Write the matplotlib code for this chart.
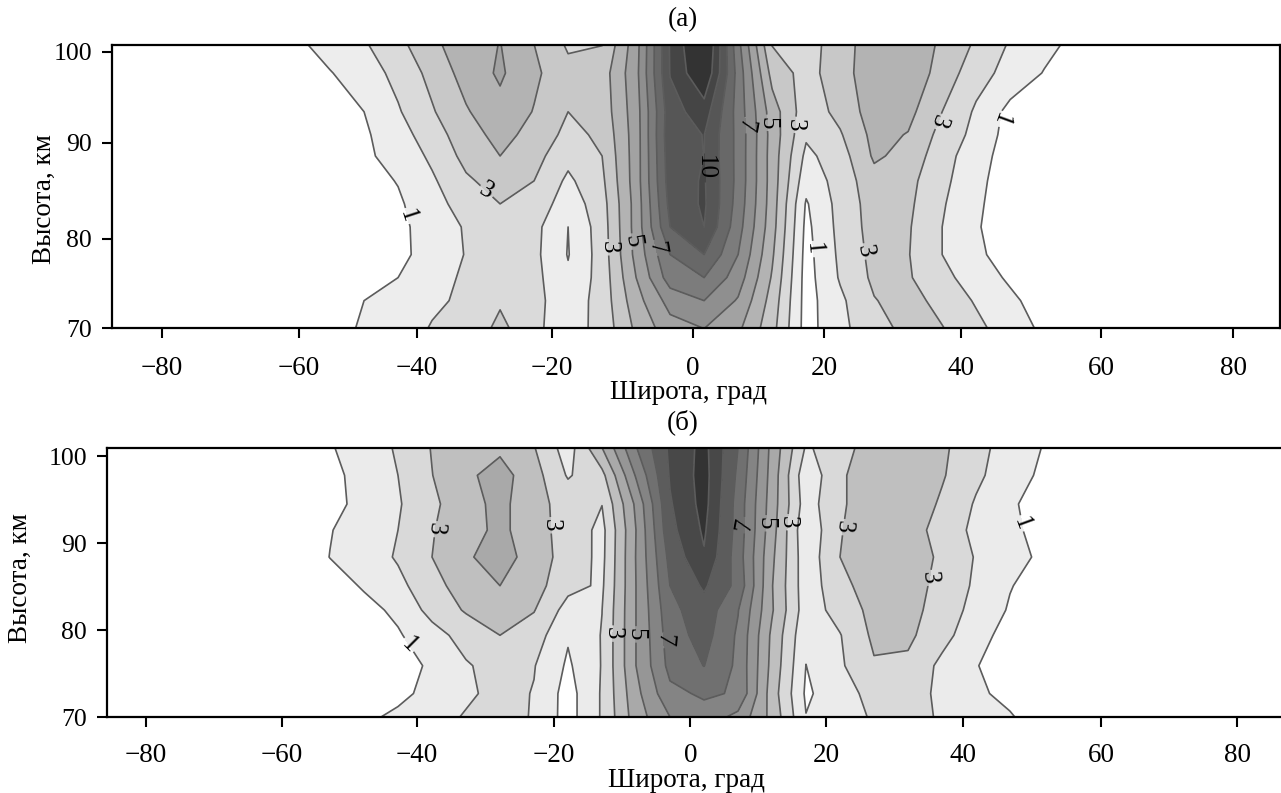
import numpy as np
import matplotlib
matplotlib.use("Agg")
import matplotlib.pyplot as plt

LAT = [-58,-53,-48,-43,-38,-33,-28,-23,-18,-13,-8,-3,2,7,12,17,22,27,32,37,42,47,52,57]

ALT_A = [70,73,75.5,78,81,83.5,86,88.7,91,93.5,97.7,100.85]
VAL_A = [
 [.3,.7,1.1,1.3,2.1,2.2,3.3,2.2,1.5,2.35,4.2,5.6,6.01,5.2,3.35,.6,1.75,2.6,3.3,3.05,2.25,1.5,.8,.2],
 [.1,.5,1.0,1.3,1.75,2.25,2.85,2.3,1.4,2.4,4.6,6.4,7.0,5.9,3.6,.6,1.8,2.95,3.4,2.65,1.9,1.2,.55,.1],
 [0,.3,.65,1.0,1.5,2.2,2.75,2.3,1.15,2.4,5.0,7.5,8.0,6.5,3.9,.6,2.1,3.2,3.1,2.3,1.5,.85,.3,0],
 [0,.1,.4,.78,1.35,2.05,2.75,2.25,.95,2.45,5.3,8.0,9.0,7.0,4.15,.65,2.2,3.3,3.05,2.0,1.2,.55,.1,0],
 [0,.05,.3,.78,1.4,2.1,2.85,2.3,1.0,2.5,5.4,9.0,10.0,7.4,4.4,.75,2.3,3.4,3.1,2.0,1.1,.4,0,0],
 [0,.1,.4,.85,1.65,2.4,3.0,2.7,1.4,2.6,5.4,9.3,10.15,7.6,4.5,.9,2.35,3.45,3.2,2.1,1.2,.35,0,0],
 [0,.15,.6,1.05,1.85,2.85,3.4,3.0,1.8,2.8,5.5,9.5,10.1,7.7,4.55,1.35,2.4,3.65,3.3,2.25,1.3,.4,.05,0],
 [0,.25,.85,1.3,2.2,3.3,4.0,3.35,2.3,3.0,5.5,9.6,10.01,7.7,4.55,1.75,2.55,4.15,3.7,2.35,1.5,.45,.1,0],
 [0,.4,.85,1.6,2.5,3.6,4.3,3.7,2.7,3.2,5.5,9.7,10.02,7.7,4.6,2.15,2.9,4.3,3.95,2.65,1.7,.6,.2,0],
 [0,.5,1.0,1.9,2.9,3.9,4.7,3.95,3.0,3.4,5.55,9.6,10.5,7.6,4.5,2.4,3.3,4.5,4.3,3.0,1.85,.7,.4,0],
 [.3,.95,1.5,2.3,3.3,4.4,5.15,4.2,3.3,3.5,5.7,10.05,12.0,7.6,3.65,2.6,3.6,4.6,4.7,3.6,2.4,1.65,.95,.4],
 [.8,1.4,1.9,2.7,3.8,4.5,5.03,4.0,2.85,2.97,5.6,10.1,12.4,7.3,2.95,2.5,3.6,4.5,4.6,3.85,2.85,1.9,1.3,.7],
]

ALT_B = [70,72.7,75.9,79.4,82.3,85.1,88.4,91.5,94.5,97.8,101]
VAL_B = [
 [0,.3,.8,1.2,1.55,2.1,2.5,1.9,.6,2.1,4.5,6.0,6.6,5.7,3.7,1.03,1.6,2.1,2.3,1.9,1.4,1.1,.4,0],
 [0,.05,.2,.75,1.3,1.8,2.35,1.95,.6,2.1,4.7,6.75,7.15,6.9,3.5,.85,1.55,2.35,2.5,1.75,1.2,.7,.1,0],
 [0,0,.1,.5,1.19,1.9,2.4,2.05,.85,2.05,5.0,7.3,8.02,6.8,3.7,.99,1.85,2.9,2.8,1.75,1.05,.45,0,0],
 [0,.1,.35,.9,1.6,2.4,3.0,2.5,1.1,2.05,5.0,7.5,8.4,6.85,3.8,1.2,1.95,3.2,3.2,2.35,1.35,.65,.15,0],
 [0,.3,.7,1.2,2.35,3.1,3.5,3.05,1.6,1.99,5.0,7.7,8.6,7.05,4.1,1.45,2.4,3.3,3.4,2.5,1.7,.9,.4,0],
 [0,.55,1.1,1.75,2.6,3.55,4.0,3.4,2.3,1.85,5.0,8.0,9.15,7.7,4.05,1.4,2.7,3.5,3.5,2.65,1.85,1.05,.55,.05],
 [.3,1.02,1.5,2.1,3.0,3.85,4.5,3.5,2.6,1.74,5.04,8.3,9.9,7.5,4.2,1.35,3.0,3.6,3.6,2.8,1.93,1.35,.8,.3],
 [.2,.95,1.5,2.0,2.95,3.5,4.3,3.3,2.7,1.7,5.0,8.7,10.15,7.6,4.4,1.2,2.95,3.5,3.6,2.5,1.8,1.25,.6,.1],
 [.1,.7,1.3,1.9,2.8,3.6,4.3,3.3,2.65,2.02,5.2,8.9,10.35,7.6,4.5,1.5,2.85,3.6,3.7,2.85,1.9,1.15,.55,.1],
 [.3,.85,1.2,2.0,2.98,3.8,4.4,3.4,1.9,2.7,6.1,9.1,10.4,7.8,4.6,1.3,2.8,3.8,3.85,3.1,2.2,1.45,.8,.3],
 [.3,.95,1.3,2.15,3.05,3.5,3.8,3.05,1.5,4.0,6.95,9.2,10.3,8.0,4.7,1.9,2.4,3.75,3.8,3.2,2.3,1.6,.95,.4],
]

LEVELS_A = [1,2,3,4,5,6,7,8,9,10,11,14]
LEVELS_B = [1,2,3,4,5,6,7,8,9,10,14]
GRAYS_A = ['#ededed','#dadada','#c8c8c8','#b3b3b3','#a2a2a2','#8f8f8f','#7c7c7c','#686868','#565656','#454545','#333333']
GRAYS_B = ['#ebebeb','#d9d9d9','#bfbfbf','#a9a9a9','#969696','#848484','#707070','#5c5c5c','#484848','#333333']

TICK_LABELS_X = ['\u221280','\u221260','\u221240','\u221220','0','20','40','60','80']
TICK_LABELS_Y = ['70','80','90','100']
# tick positions as drawn in the source (its ticks are slightly uneven)
XT_A = [-77.76,-57.6,-40.25,-20.4,0.34,19.6,39.8,60.4,79.8]
XT_B = [-80.04,-60.1,-40.25,-20.1,0.0,20.0,40.1,60.4,80.4]
YT_A = [70,79.72,90.13,100]
YT_B = [70,80,90,100]

LABELS_A = {1:[(-41,82.3),(18.1,78.6),(45.05,92.8)],
            3:[(-29.7,85.1),(-11.8,78.8),(14.4,92.15),(25.1,78.3),(36.3,92.5)],
            5:[(-8.9,79.4),(11.2,92.3)],
            7:[(-4.3,78.85),(8.3,92.05)],
            10:[(2.15,87.4)]}
ROT_A = {1:[-72,-85,-110], 3:[-30,-90,-90,-80,-110], 5:[-80,-90], 7:[-80,-100], 10:[-90]}
LABELS_B = {1:[(-41,78.5),(48.2,92.2)],
            3:[(-37.4,91.6),(-20.2,92.07),(-11.8,79.6),(13.7,92.45),(22,91.9),(34.5,86.1)],
            5:[(-7.9,79.5),(10.5,92.3)],
            7:[(-4,78.85),(7.05,92.07)]}
ROT_B = {1:[-45,-70], 3:[-95,-90,-90,-90,-95,-85], 5:[-90,-90], 7:[-95,80]}

plt.rcParams['font.family'] = ['Liberation Serif','DejaVu Serif']
W, H = 1281, 793
fig = plt.figure(figsize=(W/100, H/100), dpi=100)

def make_ax(l, r, t, b):
    return fig.add_axes([l/W, 1-b/H, (r-l)/W, (b-t)/H])

ax_a = make_ax(112, 1279.5, 44.5, 328.3)
ax_b = make_ax(107.3, 1283, 447.7, 717)

def panel(ax, alt, val, levels, grays, labels, rots, xt, yt, xlim, ylim, right, xpad):
    z = np.array(val)
    ax.contourf(LAT, alt, z, levels=levels, colors=grays)
    ax.set_xlim(*xlim); ax.set_ylim(*ylim)
    for lv in levels[:-1]:
        cs = ax.contour(LAT, alt, z, levels=[lv], colors='#5c5c5c', linewidths=1.2)
        if lv in labels:
            texts = ax.clabel(cs, manual=labels[lv], fmt='%d', fontsize=18, colors='k', inline=True, inline_spacing=2)
            for t, rot in zip(texts, rots[lv]):
                t.set_rotation(rot)
    ax.set_xlim(*xlim); ax.set_ylim(*ylim)
    ax.set_xticks(xt); ax.set_xticklabels(TICK_LABELS_X)
    ax.set_yticks(yt); ax.set_yticklabels(TICK_LABELS_Y)
    ax.tick_params(axis='both', length=7.5, width=1.5)
    ax.tick_params(axis='x', pad=xpad, labelsize=19.5)
    ax.tick_params(axis='y', pad=7, labelsize=18.5)
    for s in ['left','bottom','top','right']:
        ax.spines[s].set_linewidth(1.6)
    ax.spines['right'].set_visible(right)

panel(ax_a, ALT_A, VAL_A, LEVELS_A, GRAYS_A, LABELS_A, ROT_A, XT_A, YT_A, (-85.06,86.6), (70,100.8), True, 12.5)
panel(ax_b, ALT_B, VAL_B, LEVELS_B, GRAYS_B, LABELS_B, ROT_B, XT_B, YT_B, (-85.75,87.15), (70,100.98), False, 11)

fs = 19.5
fig.text(683/W, 1-20/H, '(а)', ha='center', va='center', fontsize=fs)
fig.text(683/W, 1-422/H, '(б)', ha='center', va='center', fontsize=fs)
fig.text(689/W, 1-399/H, 'Широта, град', ha='center', va='baseline', fontsize=fs)
fig.text(687/W, 1-787/H, 'Широта, град', ha='center', va='baseline', fontsize=fs)
fig.text(44/W, 1-199/H, 'Высота, км', ha='center', va='center', rotation=90, fontsize=fs)
fig.text(20/W, 1-578/H, 'Высота, км', ha='center', va='center', rotation=90, fontsize=fs)

fig.savefig('out.png', dpi=100)
